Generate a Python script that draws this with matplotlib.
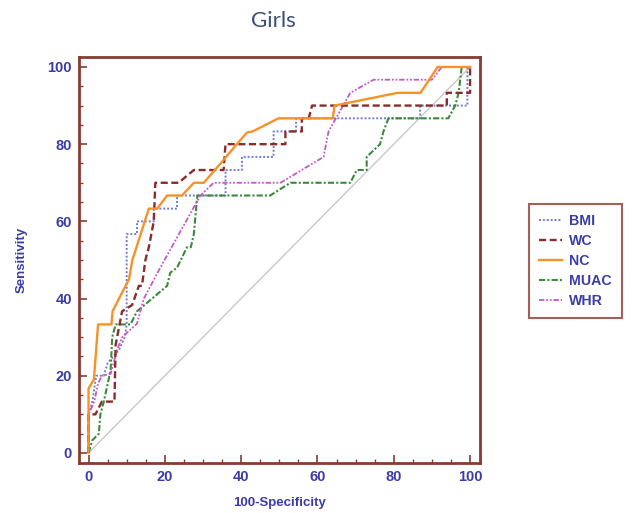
import numpy as np
import matplotlib
matplotlib.use("Agg")
import matplotlib.pyplot as plt
from matplotlib.ticker import MultipleLocator

# ROC curves (100-Specificity, Sensitivity)
bmi_x = [0, 0, 1, 2, 4, 5, 8, 9.5, 10, 10, 12.7, 12.7, 17.1, 17.1, 23.2, 23.2,
         35.9, 35.9, 40.2, 40.2, 48.5, 48.5, 54.4, 54.4, 86.9, 86.9, 99.3, 99.3, 100]
bmi_y = [0, 10, 13.3, 20, 20, 23.3, 26.7, 30, 33.3, 56.7, 56.7, 60, 60, 63.3, 63.3, 66.7,
         66.7, 73.3, 73.3, 76.7, 76.7, 83.3, 83.3, 86.7, 86.7, 90, 90, 100, 100]

wc_x = [0, 0, 1.8, 3.5, 6.8, 7.1, 8.8, 11.4, 13.2, 14, 14.9, 15.8, 17.1, 17.5, 23.6,
        27.6, 35.4, 35.9, 51.6, 51.6, 55.9, 55.9, 57.7, 58.6, 93.9, 93.9, 100, 100]
wc_y = [0, 10, 10, 13.3, 13.3, 28, 36.7, 38.3, 43.3, 43.3, 50, 53.3, 60, 70, 70,
        73.3, 73.3, 80, 80, 83.3, 83.3, 86.7, 86.7, 90, 90, 93.3, 93.3, 100]

nc_x = [0, 0, 1.4, 2.5, 6, 6.3, 8.5, 10.6, 11.5, 15.8, 18, 20.6, 24.5, 27.6, 30.2,
        34.6, 38, 41.5, 43, 49.8, 64, 64.5, 81, 87, 91.5, 100]
nc_y = [0, 16.7, 19, 33.3, 33.3, 36.7, 41, 45, 50, 63.3, 63.3, 66.7, 66.7, 70, 70,
        75, 79, 83, 83.3, 86.7, 86.7, 90, 93.3, 93.3, 100, 100]

muac_x = [0, 1, 2.7, 3.1, 4, 5.8, 6.2, 7.1, 11, 12.7, 20.6, 21.4, 23.2, 25.8, 26.8,
          27.6, 28.5, 47.6, 52.9, 68.6, 70.3, 72.9, 72.9, 76.4, 77.3, 78.6, 94.3,
          96.1, 97, 97.8, 100]
muac_y = [0, 3.3, 5, 10, 13.3, 21.5, 30, 33.3, 33.3, 36.7, 43.3, 46.7, 48, 53.3, 53.3,
          56.7, 66.7, 66.7, 70, 70, 73.3, 73.3, 76.7, 80, 83.3, 86.7, 86.7,
          90, 93.3, 100, 100]

whr_x = [0, 0, 1.5, 2.5, 3.5, 5.8, 7.5, 8.8, 12.7, 14.5, 18.8, 29.3, 32.8, 50.3,
         61.6, 62.9, 68.6, 74.7, 90, 92.6, 100]
whr_y = [0, 10, 13.3, 18, 20, 20.5, 26.7, 30, 33.5, 40, 48, 66.7, 70, 70,
         76.7, 83.3, 93.3, 96.7, 96.7, 100, 100]

BLUE = "#3c3ca8"
FRAME = "#8a3a30"

plt.rcParams["font.family"] = ["Liberation Sans", "DejaVu Sans"]

fig = plt.figure(figsize=(6.32, 5.13), dpi=100)
ax = fig.add_axes([0.125, 0.0975, 0.6345, 0.7915])

ax.plot([0, 100], [0, 100], color="#c8c8c8", lw=1.0, zorder=1)
ax.plot(bmi_x, bmi_y, color="#6f7cd0", lw=1.4, ls=(0, (1, 1)), label="BMI", zorder=3)
ax.plot(wc_x, wc_y, color="#8b2b2b", lw=1.7, ls=(0, (3, 1.5)), label="WC", zorder=4)
ax.plot(nc_x, nc_y, color="#f5922a", lw=1.7, ls="-", label="NC", zorder=5)
ax.plot(muac_x, muac_y, color="#3b8a3b", lw=1.5, ls=(0, (3, 1, 1, 1)), label="MUAC", zorder=3)
ax.plot(whr_x, whr_y, color="#c45ac4", lw=1.3, ls=(0, (3, 1, 1, 1, 1, 1)), label="WHR", zorder=3)

ax.set_xlim(-2.5, 102.6)
ax.set_ylim(-2.6, 102.6)
for a in (ax.xaxis, ax.yaxis):
    a.set_major_locator(MultipleLocator(20))
    a.set_minor_locator(MultipleLocator(5))
ax.tick_params(which="both", direction="in", color=FRAME, labelcolor=BLUE,
               labelsize=10.5, pad=5)
ax.tick_params(which="major", length=6, width=1.2)
ax.tick_params(which="minor", length=3, width=1.0)
for lab in ax.get_xticklabels() + ax.get_yticklabels():
    lab.set_fontweight("bold")
for s in ax.spines.values():
    s.set_color(FRAME)
    s.set_linewidth(2)

ax.set_xlabel("100-Specificity", color=BLUE, fontsize=9.5, fontweight="bold")
ax.set_ylabel("Sensitivity", color=BLUE, fontsize=9.5, fontweight="bold")
ax.xaxis.set_label_coords(0.5, -0.085)
ax.yaxis.set_label_coords(-0.128, 0.5)
fig.text(0.433, 0.96, "Girls", ha="center", va="center", fontsize=16,
         color="#3d4f7c", family=["Lato", "DejaVu Sans"])

leg = fig.legend(loc="center left", bbox_to_anchor=(529 / 632, 1 - 261 / 513),
                 fontsize=10.2, frameon=True, fancybox=False, handlelength=1.65,
                 labelspacing=0.42, borderpad=0.7, handletextpad=0.5,
                 borderaxespad=0)
leg.get_frame().set_edgecolor(FRAME)
leg.get_frame().set_linewidth(1.5)
for t in leg.get_texts():
    t.set_color(BLUE)
    t.set_fontweight("bold")

fig.savefig("out.png", dpi=100)
